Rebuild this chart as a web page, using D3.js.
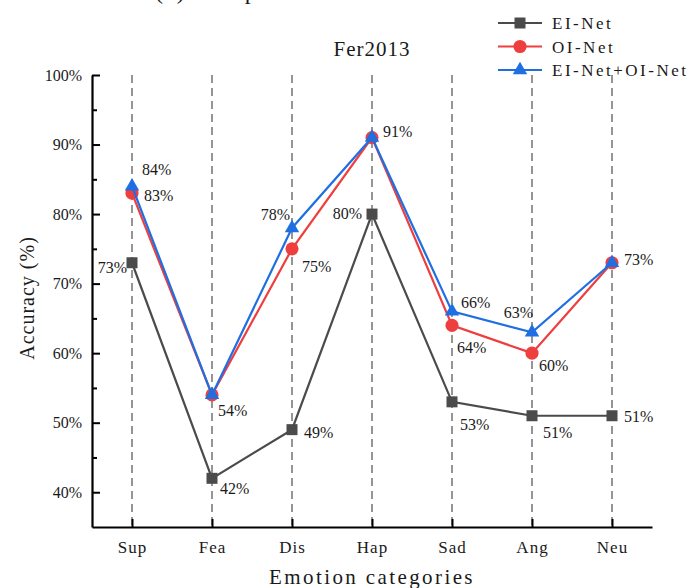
<!DOCTYPE html>
<html>
<head>
<meta charset="utf-8">
<script src="https://cdn.jsdelivr.net/npm/d3@7"></script>
<style>
  html, body { margin: 0; padding: 0; background: #fff; }
  svg { display: block; }
  text { font-family: "Liberation Serif", "Times New Roman", serif; fill: #1a1a1a; }
</style>
</head>
<body>
<svg id="chart" width="689" height="588"></svg>
<script>
// Per-emotion recognition accuracy on Fer2013
const categories = ["Sup", "Fea", "Dis", "Hap", "Sad", "Ang", "Neu"];
const eiNet      = [73, 42, 49, 80, 53, 51, 51];
const oiNet      = [83, 54, 75, 91, 64, 60, 73];
const combined   = [84, 54, 78, 91, 66, 63, 73];
const seriesNames = ["EI-Net", "OI-Net", "EI-Net+OI-Net"];
const yTicks = [40, 50, 60, 70, 80, 90, 100];
const yMinorTicks = [45, 55, 65, 75, 85, 95];

// Value-label placement per point: [dx, dy, anchor]; null = no label
const eiLabelPos = [[-5, 10, "end"], [8, 16, "start"], [12, 8, "start"], [-10, 5, "end"],
                    [8, 28, "start"], [11, 22, "start"], [12, 6, "start"]];
const oiLabelPos = [[12, 8, "start"], null, [10, 23, "start"], null,
                    [5, 28, "start"], [7, 18, "start"], null];
const cbLabelPos = [[10, -11, "start"], [6, 21, "start"], [-2, -8, "end"], [11, -1, "start"],
                    [9, -3, "start"], [1, -14, "end"], [12, 2, "start"]];

const svg = d3.select("#chart");

const x = d3.scalePoint().domain(categories).range([92, 652]).padding(0.5);
const y = d3.scaleLinear().domain([35, 100]).range([527, 75]);

// Panel caption sitting above the frame (only its descenders reach in)
svg.append("text")
  .attr("x", 155).attr("y", -1)
  .attr("font-size", 24).attr("letter-spacing", 1.5)
  .text("(c) Comparison");

// Chart title
svg.append("text")
  .attr("x", 372).attr("y", 56)
  .attr("text-anchor", "middle")
  .attr("font-size", 21).attr("letter-spacing", 1)
  .text("Fer2013");

// Vertical dashed guides at each category
svg.append("g").selectAll("line")
  .data(categories).join("line")
  .attr("x1", d => x(d)).attr("x2", d => x(d))
  .attr("y1", y(100)).attr("y2", y(35))
  .attr("stroke", "#8a8a8a").attr("stroke-width", 1.8)
  .attr("stroke-dasharray", "8,5");

// Y axis (inward ticks)
const yAxis = svg.append("g").attr("transform", "translate(92,0)")
  .call(d3.axisLeft(y).tickValues(yTicks).tickFormat(d => d + "%")
    .tickSizeInner(-8).tickSizeOuter(0).tickPadding(10));
svg.append("g").attr("transform", "translate(92,0)")
  .call(d3.axisLeft(y).tickValues(yMinorTicks).tickFormat("")
    .tickSizeInner(-5).tickSizeOuter(0))
  .select(".domain").remove();

// X axis (inward ticks)
const xAxis = svg.append("g").attr("transform", "translate(0,527)")
  .call(d3.axisBottom(x).tickSizeInner(-8).tickSizeOuter(0).tickPadding(14));

svg.selectAll(".domain").attr("stroke", "#000").attr("stroke-width", 2.2);
svg.selectAll(".tick line").attr("stroke", "#000").attr("stroke-width", 2);
yAxis.selectAll(".tick text")
  .attr("font-family", "Liberation Serif, serif").attr("font-size", 16).attr("fill", "#222");
xAxis.selectAll(".tick text")
  .attr("font-family", "Liberation Serif, serif").attr("font-size", 17)
  .attr("letter-spacing", 1).attr("fill", "#222");

// Axis titles
svg.append("text")
  .attr("x", 372).attr("y", 584)
  .attr("text-anchor", "middle")
  .attr("font-size", 21).attr("letter-spacing", 2.4)
  .text("Emotion categories");
svg.append("text")
  .attr("transform", "translate(34,298) rotate(-90)")
  .attr("text-anchor", "middle")
  .attr("font-size", 20).attr("letter-spacing", 1)
  .text("Accuracy (%)");

// Series
const series = [
  { name: seriesNames[0], values: eiNet,    color: "#4b4b4b", symbol: d3.symbolSquare,   size: 121, labels: eiLabelPos },
  { name: seriesNames[1], values: oiNet,    color: "#ef3e3e", symbol: d3.symbolCircle,   size: 135, labels: oiLabelPos },
  { name: seriesNames[2], values: combined, color: "#1f6fe3", symbol: d3.symbolTriangle, size: 90,  labels: cbLabelPos }
];

const line = d3.line().x((d, i) => x(categories[i])).y(d => y(d));

series.forEach(s => {
  const g = svg.append("g");
  g.append("path")
    .attr("d", line(s.values))
    .attr("fill", "none").attr("stroke", s.color).attr("stroke-width", 2.2);
  g.selectAll("path.mk")
    .data(s.values).join("path").attr("class", "mk")
    .attr("transform", (d, i) => `translate(${x(categories[i])},${y(d)})`)
    .attr("d", d3.symbol().type(s.symbol).size(s.size))
    .attr("fill", s.color);
});

// Value labels
series.forEach(s => {
  svg.append("g").selectAll("text")
    .data(s.values.map((v, i) => ({ v, i, p: s.labels[i] })).filter(d => d.p))
    .join("text")
    .attr("x", d => x(categories[d.i]) + d.p[0])
    .attr("y", d => y(d.v) + d.p[1])
    .attr("text-anchor", d => d.p[2])
    .attr("font-size", 16)
    .text(d => d.v + "%");
});

// Legend
const legend = svg.append("g");
series.forEach((s, i) => {
  const ly = 23 + i * 23.5;
  legend.append("line")
    .attr("x1", 498).attr("x2", 542).attr("y1", ly).attr("y2", ly)
    .attr("stroke", s.color).attr("stroke-width", 2.2);
  legend.append("path")
    .attr("transform", `translate(520,${ly})`)
    .attr("d", d3.symbol().type(s.symbol).size(s.size))
    .attr("fill", s.color);
  legend.append("text")
    .attr("x", 552).attr("y", ly + 6)
    .attr("font-size", 17).attr("letter-spacing", 2.5)
    .text(s.name);
});
</script>
</body>
</html>
